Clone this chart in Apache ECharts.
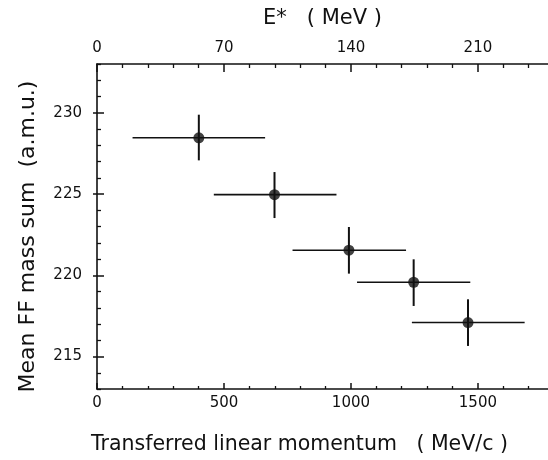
<!DOCTYPE html>
<html>
<head>
<meta charset="utf-8">
<script src="https://cdn.jsdelivr.net/npm/echarts@6/dist/echarts.min.js"></script>
<style>
html,body{margin:0;padding:0;background:#fff;}
#chart{width:548px;height:460px;}
</style>
</head>
<body>
<div id="chart"></div>
<script>
// Data
var momentum   = [401, 699, 992, 1247, 1461];          // MeV/c
var momLow     = [140, 460, 770, 1024, 1240];
var momHigh    = [662, 943, 1217, 1470, 1684];
var massSum    = [228.46, 224.96, 221.54, 219.57, 217.09]; // a.m.u.
var massLow    = [227.07, 223.52, 220.10, 218.11, 215.65];
var massHigh   = [229.88, 226.35, 222.97, 220.98, 218.52];

// Axis ticks / labels
var xMajor = [0, 500, 1000, 1500];
var xMinor = [100, 200, 300, 400, 600, 700, 800, 900, 1100, 1200, 1300, 1400, 1600, 1700];
var eMajor = [0, 70, 140, 210];
var eMinor = [14, 28, 42, 56, 84, 98, 112, 126, 154, 168, 182, 196, 224, 238];
var yMajor = [215, 220, 225, 230];
var yMinor = [213, 214, 216, 217, 218, 219, 221, 222, 223, 224, 226, 227, 228, 229, 231, 232, 233];

var X_MIN = 0, X_MAX = 1776, E_PER_P = 0.14, Y_MIN = 213, Y_MAX = 233;

var ink = '#111';
var font = 'DejaVu Sans';
function plain(v) { return String(v); }

var points = momentum.map(function (p, i) {
  return [p, massSum[i], momLow[i], momHigh[i], massLow[i], massHigh[i]];
});

function baseX(extra) {
  return Object.assign({
    type: 'value', min: X_MIN, max: X_MAX,
    splitLine: { show: false },
    axisLine: { show: false },
    axisTick: { show: false },
    axisLabel: { show: false }
  }, extra);
}
function baseY(extra) {
  return Object.assign({
    type: 'value', min: Y_MIN, max: Y_MAX,
    splitLine: { show: false },
    axisLine: { show: false },
    axisTick: { show: false },
    axisLabel: { show: false }
  }, extra);
}

var chart = echarts.init(document.getElementById('chart'), null, { renderer: 'canvas' });

chart.setOption({
  animation: false,
  backgroundColor: '#fff',
  grid: { left: 97, right: 0, top: 64, bottom: 71, containLabel: false },
  xAxis: [
    baseX({
      position: 'bottom',
      name: 'Transferred linear momentum   ( MeV/c )',
      nameLocation: 'middle', nameGap: 45,
      nameTextStyle: { fontFamily: font, fontSize: 20.5, color: ink, padding: [0, 46, 0, 0] },
      axisLine: { show: true, onZero: false, lineStyle: { color: ink, width: 1.6 } },
      axisTick: { show: true, inside: true, length: 6, customValues: xMajor, lineStyle: { color: ink, width: 1.5 } },
      axisLabel: { show: true, customValues: xMajor, formatter: plain, margin: 7, fontFamily: font, fontSize: 15, color: ink }
    }),
    baseX({
      position: 'bottom',
      axisTick: { show: true, inside: true, length: 3, customValues: xMinor, lineStyle: { color: ink, width: 1.3 } }
    }),
    baseX({
      position: 'top', min: X_MIN * E_PER_P, max: X_MAX * E_PER_P,
      name: 'E*   ( MeV )',
      nameLocation: 'middle', nameGap: 35,
      nameTextStyle: { fontFamily: font, fontSize: 21, color: ink },
      axisLine: { show: true, onZero: false, lineStyle: { color: ink, width: 1.6 } },
      axisTick: { show: true, inside: true, length: 8, customValues: eMajor, lineStyle: { color: ink, width: 1.5 } },
      axisLabel: { show: true, customValues: eMajor, formatter: plain, margin: 8, fontFamily: font, fontSize: 15, color: ink }
    }),
    baseX({
      position: 'top', min: X_MIN * E_PER_P, max: X_MAX * E_PER_P,
      axisTick: { show: true, inside: true, length: 4, customValues: eMinor, lineStyle: { color: ink, width: 1.3 } }
    })
  ],
  yAxis: [
    baseY({
      position: 'left',
      name: 'Mean FF mass sum  (a.m.u.)',
      nameLocation: 'middle', nameGap: 58,
      nameTextStyle: { fontFamily: font, fontSize: 22, color: ink, padding: [0, 20, 0, 0] },
      axisLine: { show: true, onZero: false, lineStyle: { color: ink, width: 1.6 } },
      axisTick: { show: true, inside: true, length: 7, customValues: yMajor, lineStyle: { color: ink, width: 1.5 } },
      axisLabel: { show: true, customValues: yMajor, formatter: plain, margin: 15, fontFamily: font, fontSize: 15, color: ink }
    }),
    baseY({
      position: 'left',
      axisTick: { show: true, inside: true, length: 4, customValues: yMinor, lineStyle: { color: ink, width: 1.3 } }
    }),
    baseY({
      position: 'right',
      axisLine: { show: false },
      axisTick: { show: true, inside: true, length: 4, customValues: yMajor, lineStyle: { color: ink, width: 1.5 } }
    })
  ],
  series: [
    {
      type: 'custom',
      xAxisIndex: 0, yAxisIndex: 0,
      data: points,
      renderItem: function (params, api) {
        var l = api.coord([api.value(2), api.value(1)]);
        var r = api.coord([api.value(3), api.value(1)]);
        var lo = api.coord([api.value(0), api.value(4)]);
        var hi = api.coord([api.value(0), api.value(5)]);
        return {
          type: 'group',
          children: [
            { type: 'line', shape: { x1: l[0], y1: l[1], x2: r[0], y2: r[1] }, style: { stroke: ink, lineWidth: 1.6 } },
            { type: 'line', shape: { x1: lo[0], y1: lo[1], x2: hi[0], y2: hi[1] }, style: { stroke: ink, lineWidth: 2 } }
          ]
        };
      },
      z: 2
    },
    {
      type: 'scatter',
      xAxisIndex: 0, yAxisIndex: 0,
      data: points.map(function (d) { return [d[0], d[1]]; }),
      symbol: 'circle', symbolSize: 11,
      itemStyle: { color: ink },
      z: 3
    }
  ]
});
</script>
</body>
</html>
